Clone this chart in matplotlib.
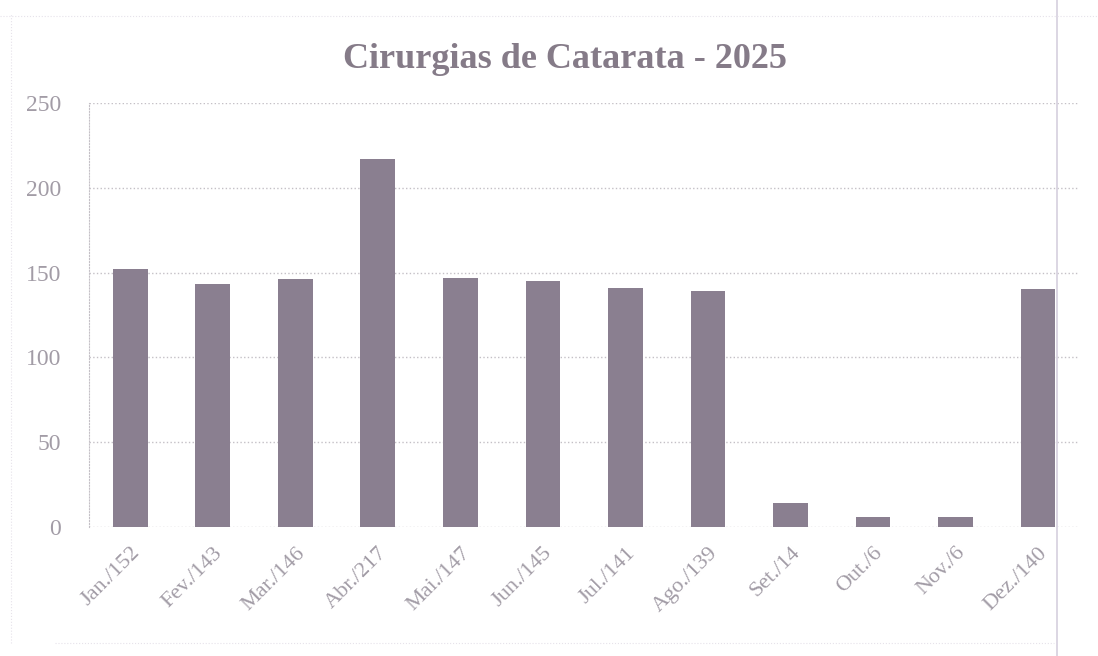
import matplotlib.pyplot as plt
from matplotlib.lines import Line2D

# Data
months = ["Jan.", "Fev.", "Mar.", "Abr.", "Mai.", "Jun.",
          "Jul.", "Ago.", "Set.", "Out.", "Nov.", "Dez."]
cirurgias = [152, 143, 146, 217, 147, 145, 141, 139, 14, 6, 6, 140]
tick_labels = [f"{m}/{v}" for m, v in zip(months, cirurgias)]
y_ticks = [0, 50, 100, 150, 200, 250]

plt.rcParams['font.family'] = ['Liberation Serif', 'DejaVu Serif']

fig = plt.figure(figsize=(10.98, 6.56), dpi=100)
ax = fig.add_axes([0.081, 0.197, 0.902, 0.646])

x = range(len(months))
ax.bar(x, cirurgias, width=0.42, color='#8a7f90', zorder=2)

ax.set_xlim(-0.5, len(months) - 0.5)
ax.set_ylim(0, 250)
ax.set_yticks(y_ticks)
ax.set_xticks(list(x))
ax.set_xticklabels(tick_labels, rotation=45, ha='right', rotation_mode='anchor')

ax.tick_params(axis='both', length=0, colors='#a29ca6')
ax.tick_params(axis='x', labelsize=16, pad=12)
ax.tick_params(axis='y', labelsize=17, pad=20)

ax.grid(axis='y', linestyle=':', color='#c4c0c6', linewidth=1.0, zorder=0)
for side in ['top', 'right', 'bottom']:
    ax.spines[side].set_visible(False)
ax.spines['left'].set_linestyle(':')
ax.spines['left'].set_color('#c4c0c6')

fig.text(0.515, 0.91, "Cirurgias de Catarata - 2025", ha='center', va='center',
         fontsize=26, fontweight='bold', color='#857b88')

# faint page borders from the scan
fig.add_artist(Line2D([0.963, 0.963], [0.0, 1.0], color='#d6d0de', linewidth=1.2))
fig.add_artist(Line2D([0.01, 0.01], [0.02, 0.98], color='#e6e2ea', linewidth=0.8, linestyle=':'))
fig.add_artist(Line2D([0.0, 1.0], [0.975, 0.975], color='#e6e2ea', linewidth=0.8, linestyle=':'))
fig.add_artist(Line2D([0.05, 0.96], [0.02, 0.02], color='#e6e2ea', linewidth=0.8, linestyle=':'))

fig.savefig("out.png", dpi=100)
